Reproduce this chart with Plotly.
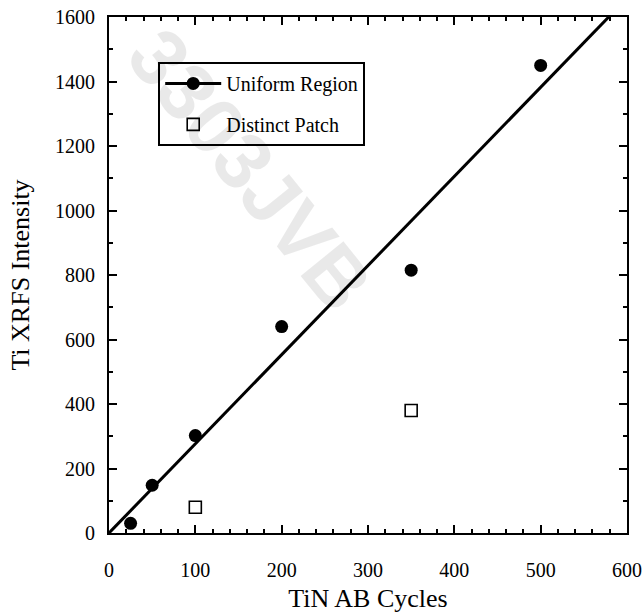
import numpy as np
import plotly.graph_objects as go

# Data
uniform_cycles = [25, 50, 100, 200, 350, 500]
uniform_intensity = [30, 148, 302, 640, 815, 1450]
patch_cycles = [100, 350]
patch_intensity = [80, 380]
x_ticks = [0, 100, 200, 300, 400, 500, 600]
y_ticks = [0, 200, 400, 600, 800, 1000, 1200, 1400, 1600]

# least-squares fit through origin
ux = np.array(uniform_cycles, float)
uy = np.array(uniform_intensity, float)
slope = float((ux * uy).sum() / (ux * ux).sum())
fit_x = [0, 600]
fit_y = [slope * v for v in fit_x]

font = "Liberation Serif, Times New Roman, serif"

fig = go.Figure()
fig.add_trace(go.Scatter(x=fit_x, y=fit_y, mode="lines",
                         line=dict(color="black", width=3), showlegend=False,
                         hoverinfo="skip"))
fig.add_trace(go.Scatter(x=uniform_cycles, y=uniform_intensity, mode="markers",
                         marker=dict(symbol="circle", size=13, color="black"),
                         showlegend=False))
fig.add_trace(go.Scatter(x=patch_cycles, y=patch_intensity, mode="markers",
                         marker=dict(symbol="square-open", size=12, color="black",
                                     line=dict(width=1.6)),
                         showlegend=False))
# legend entries
fig.add_trace(go.Scatter(x=[None], y=[None], mode="lines+markers", name="Uniform Region",
                         line=dict(color="black", width=3),
                         marker=dict(symbol="circle", size=13, color="black"),
                         legendgroup="a"))
fig.add_trace(go.Scatter(x=[None], y=[None], mode="markers", name="Distinct Patch",
                         marker=dict(symbol="square-open", size=12, color="black",
                                     line=dict(width=1.6)),
                         legendgroup="b"))

axis_common = dict(
    showline=True, linecolor="black", linewidth=2, mirror="ticks",
    ticks="inside", ticklen=8, tickwidth=2, tickcolor="black",
    showgrid=False, zeroline=False, automargin=False,
    tickfont=dict(family=font, size=20, color="black"),
)
fig.update_xaxes(range=[0, 600], tickvals=x_ticks, ticklabelstandoff=18,
                 minor=dict(dtick=20, ticks="inside", ticklen=4, tickwidth=1.5, tickcolor="black"),
                 title=dict(text="TiN AB Cycles", font=dict(family=font, size=26, color="black"), standoff=28),
                 **axis_common)
fig.update_yaxes(range=[0, 1600], tickvals=y_ticks, ticklabelstandoff=8,
                 minor=dict(dtick=100, ticks="inside", ticklen=4, tickwidth=1.5, tickcolor="black"),
                 title=dict(text="Ti XRFS Intensity", font=dict(family=font, size=26, color="black"), standoff=18),
                 **axis_common)

fig.add_annotation(text="3303JVB", x=163, y=1126, xref="x", yref="y", showarrow=False,
                   textangle=51, font=dict(family="Liberation Sans", size=80,
                                           color="rgba(0,0,0,0.085)", weight="bold"),
                   )

fig.update_layout(
    width=644, height=613,
    margin=dict(l=109, r=17, t=17, b=80),
    plot_bgcolor="white", paper_bgcolor="white",
    legend=dict(x=0.095, y=0.913, xanchor="left", yanchor="top",
                bordercolor="black", borderwidth=2, bgcolor="rgba(255,255,255,0)",
                font=dict(family=font, size=20, color="black"),
                tracegroupgap=12, itemwidth=56),
    showlegend=True,
)
fig.write_html("out.html")
